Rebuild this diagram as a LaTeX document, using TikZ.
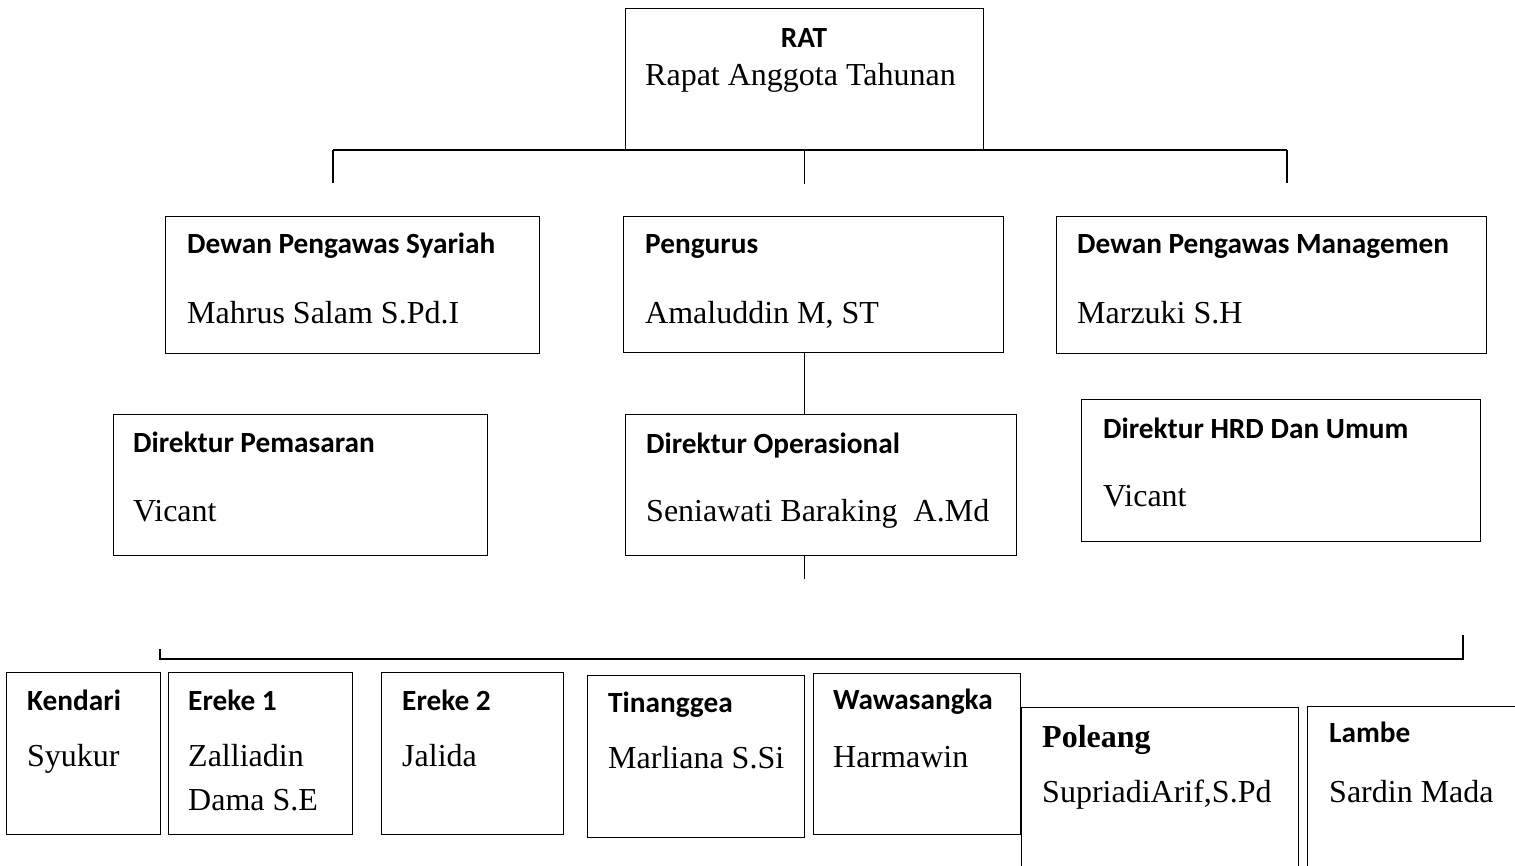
\documentclass[tikz,border=0pt]{standalone}
\usepackage{fontspec}
\setmainfont{Liberation Serif}
\newfontfamily\calfont{Carlito}
\tikzset{
 box/.style={draw, line width=1.3pt, anchor=north west, inner sep=0pt},
 hd/.style={anchor=base west, inner sep=0pt, font=\calfont\bfseries\fontsize{29.3}{35}\selectfont},
 nm/.style={anchor=base west, inner sep=0pt, font=\fontsize{32}{38}\selectfont},
 ln/.style={line width=1.3pt}
}
\newcommand\bx[5]{\node[box, minimum width={#4-#2}, minimum height={#5-#3}] (#1) at (#2,#3) {};}
\begin{document}
\begin{tikzpicture}[x=1pt,y=-1pt]
\useasboundingbox (0,0) rectangle (1515,865);
\clip (0,0) rectangle (1515,865);
% boxes
\bx{rat}{625}{8}{983}{150}
\bx{dps}{165}{216}{539}{353}
\bx{peng}{623}{216}{1003}{352}
\bx{dpm}{1056}{216}{1486}{353}
\bx{dpem}{113}{414}{487}{555}
\bx{dop}{625}{414}{1016}{555}
\bx{dhrd}{1081}{399}{1480}{541}
\bx{ken}{6}{672}{160}{834}
\bx{erA}{168}{672}{352}{834}
\bx{erB}{381}{672}{563}{834}
\bx{tin}{587}{675}{804}{837}
\bx{waw}{813}{673}{1020}{834}
\bx{pol}{1021}{707}{1298}{885}
\bx{lam}{1307}{706}{1540}{885}
% connectors
\coordinate (hL) at (333,150);
\coordinate (hR) at (1287,150);
\draw[ln] (hL) -- (hR);
\draw[ln] (hL) -- ++(0,33);
\draw[ln] (rat.south) -- ++(0,33);
\draw[ln] (hR) -- ++(0,33);
\draw[ln] (peng.south -| rat.south) -- (dop.north -| rat.south);
\draw[ln] (dop.south -| rat.south) -- ++(0,23);
\coordinate (bL) at (160,659);
\coordinate (bR) at (1463,659);
\draw[ln] (160,649) -- (bL) -- (bR) -- (1463,635);
% texts
\node[hd, anchor=base] (tRAT) at (804,47) {RAT};
\node[nm] (tRapat) at (645,85) {Rapat Anggota Tahunan};
\node[hd] (tdps) at (187,253) {Dewan Pengawas Syariah};
\node[nm] (ndps) at (187,323) {Mahrus Salam S.Pd.I};
\node[hd] (tpeng) at (645,253) {Pengurus};
\node[nm] (npeng) at (645,323) {Amaluddin M, ST};
\node[hd] (tdpm) at (1077,253) {Dewan Pengawas Managemen};
\node[nm] (ndpm) at (1077,323) {Marzuki S.H};
\node[hd] (tdpem) at (133,452) {Direktur Pemasaran};
\node[nm] (ndpem) at (133,521) {Vicant};
\node[hd] (tdop) at (646,453) {Direktur Operasional};
\node[nm] (ndop) at (646,521) {Seniawati Baraking\ \ A.Md};
\node[hd] (tdhrd) at (1103,438) {Direktur HRD Dan Umum};
\node[nm] (ndhrd) at (1103,506) {Vicant};
\node[hd] (tken) at (27,710) {Kendari};
\node[nm] (nken) at (27,766) {Syukur};
\node[hd] (terA) at (188,710) {Ereke 1};
\node[nm] (nerA) at (188,766) {Zalliadin};
\node[nm] (nerAb) at (188,810) {Dama S.E};
\node[hd] (terB) at (402,710) {Ereke 2};
\node[nm] (nerB) at (402,766) {Jalida};
\node[hd] (ttin) at (608,712) {Tinanggea};
\node[nm] (ntin) at (608,768) {Marliana S.Si};
\node[hd] (twaw) at (833,709) {Wawasangka};
\node[nm] (nwaw) at (833,767) {Harmawin};
\node[nm, font=\bfseries\fontsize{32}{38}\selectfont] (tpol) at (1042,747) {Poleang};
\node[nm] (npol) at (1042,802) {SupriadiArif,S.Pd};
\node[hd] (tlam) at (1329,742) {Lambe};
\node[nm] (nlam) at (1329,802) {Sardin Mada};
\end{tikzpicture}
\end{document}
